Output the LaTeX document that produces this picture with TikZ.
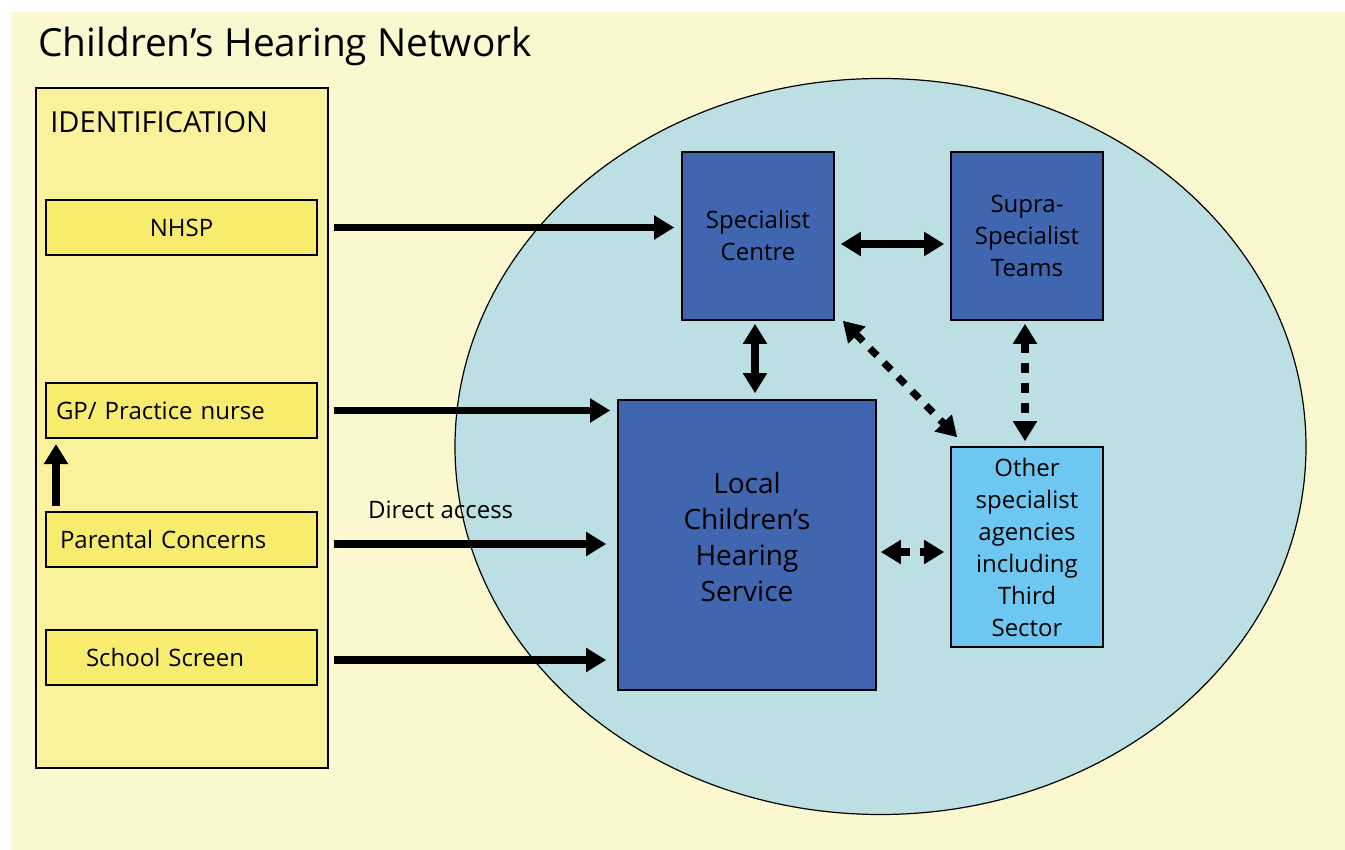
\documentclass[tikz,border=0pt]{standalone}
\usepackage{fontspec}
\setmainfont{Open Sans}
\usetikzlibrary{arrows.meta}

\definecolor{paper}{HTML}{FBF7CE}
\definecolor{column}{HTML}{FAF19C}
\definecolor{ident}{HTML}{F8EC6E}
\definecolor{pool}{HTML}{BCDFE3}
\definecolor{navy}{HTML}{4166B0}
\definecolor{sky}{HTML}{6EC7F0}

\begin{document}
\begin{tikzpicture}[x=0.5pt,y=-0.5pt,
  src/.style={draw,line width=1pt,fill=ident,minimum height=27.5pt,inner xsep=5pt,
    text width=125.5pt,font=\fontsize{12}{14}\selectfont},
  hub/.style={draw,line width=0.8pt,fill=navy,align=center,font=\fontsize{12}{16}\selectfont},
  link/.style={line width=3.6pt,-{Triangle[length=10pt,width=11.5pt]}},
  both/.style={line width=3.6pt,{Triangle[length=10pt,width=11.5pt]}-{Triangle[length=10pt,width=11.5pt]}},
  dots/.style={both,dash pattern=on 5pt off 5pt}]

\useasboundingbox (0,0) rectangle (1345,850);
\fill[paper] (11,12) rectangle (1345,850);
\node[anchor=base west,inner sep=0pt,font=\fontsize{19.4}{22}\selectfont] (title) at (38,57) {Children's Hearing Network};

% identification column
\node[draw,line width=1pt,fill=column,minimum width=146pt,minimum height=340pt] (col) at (182,428) {};
\node[anchor=base west,inner sep=0pt,font=\fontsize{14.5}{17}\selectfont] (idlab) at (50,133) {IDENTIFICATION};
\node[src,align=center] (nhsp) at (181.5,227.5) {NHSP};
\node[src,align=left] (gp) at (181.5,410.5) {GP/ Practice nurse};
\node[src,align=left] (parent) at (181.5,539.5) {\hspace*{2pt}Parental Concerns};
\node[src,align=left] (school) at (181.5,657.5) {\hspace*{15pt}School Screen};

% network
\draw[line width=0.6pt,fill=pool] (880.5,446.5) ellipse [x radius=212.75pt,y radius=184pt];
\node[hub,minimum width=76pt,minimum height=84pt] (spec) at (758,236) {Specialist\\Centre};
\node[hub,minimum width=76pt,minimum height=84pt] (supra) at (1027,236) {Supra-\\Specialist\\Teams};
\node[hub,minimum width=129pt,minimum height=145pt,text depth=8pt,font=\fontsize{14}{18}\selectfont] (local) at (747,545) {Local\\Children's\\Hearing\\Service};
\node[hub,fill=sky,minimum width=76pt,minimum height=100pt] (other) at (1027,547) {Other\\specialist\\agencies\\including\\Third\\Sector};

% connectors
\draw[link,shorten <=8pt,shorten >=3.5pt] (nhsp.east) -- (nhsp.east -| spec.west);
\draw[link,shorten <=8pt,shorten >=3.5pt] (gp.east) -- (gp.east -| local.west);
\draw[link,shorten <=8pt,shorten >=5.5pt] ([yshift=-2.25pt]parent.east) -- ([yshift=-2.25pt]parent.east -| local.west)
  node[pos=0.41,above=7.3pt,font=\fontsize{12}{14}\selectfont] (direct) {Direct access};
\draw[link,shorten <=8pt,shorten >=5.5pt] ([yshift=-1.25pt]school.east) -- ([yshift=-1.25pt]school.east -| local.west);
\draw[link,shorten <=2.5pt,shorten >=2.5pt] ([xshift=5.5pt]parent.north west) -- ([xshift=5.5pt]gp.south west);
\draw[both,shorten <=3pt,shorten >=3pt] ([yshift=-4pt]spec.east) -- ([yshift=-4pt]spec.east -| supra.west);
\draw[both,shorten <=1.5pt,shorten >=3pt] ([xshift=-1.5pt]spec.south) -- ([xshift=-1.5pt]spec.south |- local.north);
\draw[dots] ([shift={(4pt,0pt)}]spec.south east) -- ([shift={(3.5pt,4.5pt)}]other.north west);
\draw[dots,shorten <=1.5pt,shorten >=2.5pt] ([xshift=-1pt]supra.south) -- ([xshift=-1pt]supra.south |- other.north);
\draw[dots,shorten <=2pt,shorten >=3pt] ([yshift=-2.5pt]other.west -| local.east) -- ([yshift=-2.5pt]other.west);
\end{tikzpicture}
\end{document}
